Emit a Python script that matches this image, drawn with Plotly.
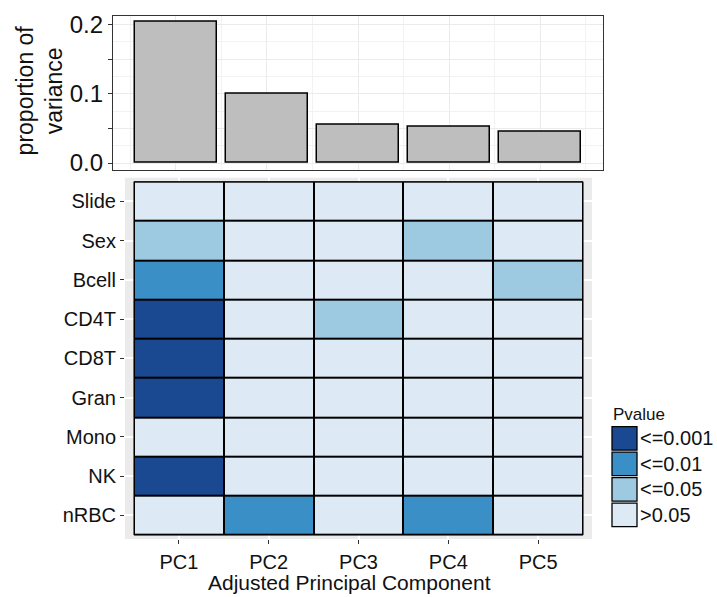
import plotly.graph_objects as go

# Variance explained by each adjusted principal component
pcs = ["PC1", "PC2", "PC3", "PC4", "PC5"]
pc_pos = [1, 2, 3, 4, 5]
prop_var = [0.2035, 0.0997, 0.0557, 0.0521, 0.0455]

# Association p-value class for each covariate (rows) against each PC (columns)
covariates = ["Slide", "Sex", "Bcell", "CD4T", "CD8T", "Gran", "Mono", "NK", "nRBC"]
pval_class = [
    [">0.05", ">0.05", ">0.05", ">0.05", ">0.05"],
    ["<=0.05", ">0.05", ">0.05", "<=0.05", ">0.05"],
    ["<=0.01", ">0.05", ">0.05", ">0.05", "<=0.05"],
    ["<=0.001", ">0.05", "<=0.05", ">0.05", ">0.05"],
    ["<=0.001", ">0.05", ">0.05", ">0.05", ">0.05"],
    ["<=0.001", ">0.05", ">0.05", ">0.05", ">0.05"],
    [">0.05", ">0.05", ">0.05", ">0.05", ">0.05"],
    ["<=0.001", ">0.05", ">0.05", ">0.05", ">0.05"],
    [">0.05", "<=0.01", ">0.05", "<=0.01", ">0.05"],
]

# Legend order (strongest first) and fill colours
levels = ["<=0.001", "<=0.01", "<=0.05", ">0.05"]
level_colors = ["#1A4891", "#3B8FC7", "#9DC9E1", "#DDEAF6"]

W, H = 717, 597
FONT = "Liberation Sans, Arial, Helvetica, sans-serif"


def py(pix):
    return 1 - pix / H


def px(pix):
    return pix / W


# map class labels to integer codes for a discrete colour scale
code_of = {lv: i for i, lv in enumerate(levels)}
z = [[code_of[v] for v in row] for row in pval_class]
n = len(levels)
cscale = []
for i, c in enumerate(level_colors):
    cscale.append([i / n, c])
    cscale.append([(i + 1) / n, c])

fig = go.Figure()

fig.add_trace(go.Bar(
    x=pc_pos, y=prop_var, width=0.9,
    marker=dict(color="#BEBEBE", line=dict(color="black", width=1.5)),
    xaxis="x", yaxis="y", showlegend=False, hoverinfo="skip",
))

fig.add_trace(go.Heatmap(
    x=pcs, y=covariates, z=z,
    zmin=-0.5, zmax=n - 0.5, colorscale=cscale, showscale=False,
    xgap=2, ygap=2, xaxis="x2", yaxis="y2", hoverinfo="skip",
))

tick_font = dict(family=FONT, size=20, color="#111111")

fig.update_layout(
    width=W, height=H,
    margin=dict(l=0, r=0, t=0, b=0),
    paper_bgcolor="white", plot_bgcolor="white",
    font=dict(family=FONT, color="#111111"),
    showlegend=False,
    bargap=0,
    xaxis=dict(
        domain=[px(113), px(603)], range=[0.31, 5.69],
        tickvals=pc_pos, showticklabels=False, ticks="",
        showgrid=True, gridcolor="#EBEBEB", gridwidth=1.3,
        minor=dict(dtick=0.5, tick0=0.5, showgrid=True, gridcolor="#F2F2F2", gridwidth=0.8),
        showline=True, mirror=True, linecolor="#333333", linewidth=1.3,
        zeroline=False, anchor="y",
    ),
    yaxis=dict(
        domain=[py(168), py(11)], range=[-0.0099, 0.2128],
        tickvals=[0, 0.05, 0.1, 0.15, 0.2],
        ticktext=["0.0", "", "0.1", "", "0.2"],
        ticks="outside", ticklen=4, tickcolor="#333333", tickwidth=1.2,
        tickfont=dict(family=FONT, size=24, color="#111111"),
        showgrid=True, gridcolor="#EBEBEB", gridwidth=1.3,
        minor=dict(dtick=0.025, tick0=0, showgrid=True, gridcolor="#F2F2F2", gridwidth=0.8),
        showline=True, mirror=True, linecolor="#333333", linewidth=1.3,
        zeroline=False, anchor="x",
    ),
    xaxis2=dict(
        domain=[px(125), px(592)], range=[-0.6, len(pcs) - 0.4],
        type="category", categoryorder="array", categoryarray=pcs,
        ticks="outside", ticklen=4, tickcolor="#333333", tickwidth=1.2,
        tickfont=tick_font, ticklabelstandoff=1,
        showgrid=True, gridcolor="white", gridwidth=1.5,
        showline=False, zeroline=False, anchor="y2",
    ),
    yaxis2=dict(
        domain=[py(544), py(176)], range=[len(covariates) - 0.4, -0.6],
        type="category", categoryorder="array", categoryarray=covariates,
        ticks="outside", ticklen=4, tickcolor="#333333", tickwidth=1.2,
        tickfont=tick_font,
        showgrid=True, gridcolor="white", gridwidth=1.5,
        showline=False, zeroline=False, anchor="x2",
    ),
)

shapes = [
    # grey panel background behind the heatmap
    dict(type="rect", xref="x2 domain", yref="y2 domain", x0=0, x1=1, y0=0, y1=1,
         fillcolor="#EBEBEB", line=dict(width=0), layer="below"),
    # black backing that shows through the gaps as tile borders
    dict(type="rect", xref="x2", yref="y2",
         x0=-0.5, x1=len(pcs) - 0.5, y0=-0.5, y1=len(covariates) - 0.5,
         fillcolor="black", line=dict(color="black", width=1), layer="between"),
]

annotations = [
    dict(text="proportion of<br>variance", x=px(40), y=py(87), xref="paper", yref="paper",
         textangle=-90, showarrow=False, font=dict(family=FONT, size=23, color="#111111"),
         xanchor="center", yanchor="middle"),
    dict(text="Adjusted Principal Component", x=px(349), y=py(597), xref="paper", yref="paper",
         showarrow=False, font=dict(family=FONT, size=21, color="#111111"),
         xanchor="center", yanchor="bottom", borderpad=0, yshift=-4),
    dict(text="Pvalue", x=px(611), y=py(417), xref="paper", yref="paper",
         showarrow=False, font=dict(family=FONT, size=17, color="#111111"),
         xanchor="left", yanchor="middle"),
]

# legend keys
key_top, key_step, key_h, key_w, key_x = 429.5, 26, 24, 25, 612
for i, (lv, col) in enumerate(zip(levels, level_colors)):
    y0 = key_top + i * key_step
    shapes.append(dict(type="rect", xref="paper", yref="paper",
                       x0=px(key_x), x1=px(key_x + key_w), y0=py(y0 + key_h), y1=py(y0),
                       fillcolor=col, line=dict(color="black", width=1.3)))
    annotations.append(dict(text=lv, x=px(key_x + key_w + 1), y=py(y0 + key_h / 2),
                            xref="paper", yref="paper", showarrow=False,
                            font=dict(family=FONT, size=20, color="#111111"),
                            xanchor="left", yanchor="middle"))

fig.update_layout(shapes=shapes, annotations=annotations)

fig.write_html("out.html")
